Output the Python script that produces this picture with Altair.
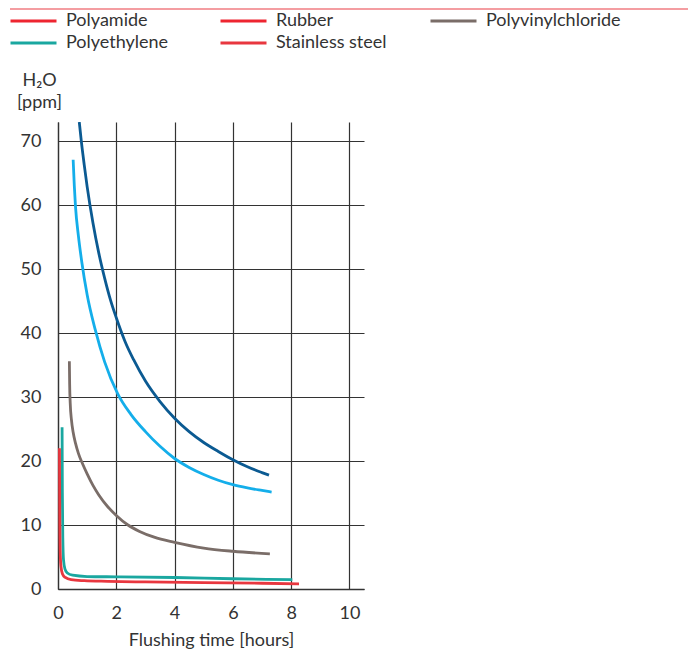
import altair as alt
import pandas as pd

# ---- data ----
series_names = ["Polyamide", "Rubber", "Polyvinylchloride", "Polyethylene", "Stainless steel"]
legend_colors = ["#ee2530", "#ee2530", "#7a6d68", "#1aa7a0", "#e8373f"]
line_colors = ["#0b5a92", "#14aeea", "#7a6d68", "#1aa7a0", "#e8373f"]

polyamide_x = [0.73, 0.80, 0.90, 1.0, 1.2, 1.4, 1.6, 1.8, 2.0, 2.3, 2.6, 3.0, 3.5, 4.0,
               4.5, 5.0, 5.5, 6.0, 6.5, 7.0, 7.24]
polyamide_y = [73.0, 70.0, 66.3, 62.9, 57.2, 52.5, 48.6, 45.2, 42.4, 38.7, 35.8, 32.5, 29.3, 26.7,
               24.6, 22.9, 21.5, 20.2, 19.1, 18.2, 17.8]

rubber_x = [0.52, 0.56, 0.60, 0.70, 0.82, 1.0, 1.28, 1.6, 2.05, 2.5, 3.0, 3.5, 4.0, 4.5,
            5.0, 5.5, 6.0, 6.5, 7.0, 7.33]
rubber_y = [67.1, 63.0, 59.8, 55.2, 51.0, 46.0, 40.5, 35.5, 30.5, 27.3, 24.6, 22.3, 20.4, 19.0,
            17.9, 17.0, 16.3, 15.8, 15.4, 15.15]

pvc_x = [0.39, 0.40, 0.42, 0.46, 0.52, 0.60, 0.70, 0.85, 1.0, 1.2, 1.4, 1.7, 2.0, 2.4, 2.8,
         3.3, 4.0, 5.0, 6.0, 7.27]
pvc_y = [35.6, 32.0, 29.0, 26.5, 24.5, 22.8, 21.2, 19.5, 18.0, 16.2, 14.7, 12.9, 11.5, 10.0, 9.0,
         8.1, 7.3, 6.4, 5.9, 5.5]

pe_x = [0.14, 0.15, 0.165, 0.19, 0.24, 0.32, 0.5, 1.0, 2.0, 4.0, 6.0, 8.04]
pe_y = [25.3, 15.0, 8.0, 4.5, 3.1, 2.5, 2.15, 1.95, 1.9, 1.8, 1.6, 1.45]

ss_x = [0.05, 0.06, 0.075, 0.1, 0.15, 0.25, 0.45, 0.9, 1.7, 3.0, 5.0, 7.0, 8.27]
ss_y = [22.0, 12.0, 6.0, 3.6, 2.4, 1.8, 1.45, 1.3, 1.2, 1.1, 1.0, 0.9, 0.8]

x_ticks = [0, 2, 4, 6, 8, 10]
y_ticks = [0, 10, 20, 30, 40, 50, 60, 70]

# ---- build table ----
rows = []
for name, xs, ys in zip(series_names,
                        [polyamide_x, rubber_x, pvc_x, pe_x, ss_x],
                        [polyamide_y, rubber_y, pvc_y, pe_y, ss_y]):
    for xv, yv in zip(xs, ys):
        rows.append({"series": name, "t": xv, "h2o": yv})
df = pd.DataFrame(rows)

FONT = "Lato"
W, H = 306, 467

x_enc = alt.X("t:Q", scale=alt.Scale(domain=[0, 10.5], nice=False),
              axis=alt.Axis(values=x_ticks, title="Flushing time [hours]", grid=True,
                            ticks=False, labelPadding=15, titlePadding=9,
                            labelFlush=False))
y_enc = alt.Y("h2o:Q", scale=alt.Scale(domain=[0, 73], nice=False),
              axis=alt.Axis(values=y_ticks, title=["H₂O", "[ppm]"], grid=True,
                            ticks=False, labelPadding=17, titleAngle=0,
                            titleAlign="center", titleBaseline="top",
                            titleX=-19, titleY=-51, titleLineHeight=22,
                            labelFlush=False))

lines = alt.Chart(df).mark_line(strokeWidth=2.8, interpolate="monotone", clip=True).encode(
    x=x_enc,
    y=y_enc,
    detail="series:N",
    stroke=alt.Stroke("series:N", scale=alt.Scale(domain=series_names, range=line_colors),
                      legend=None),
)

legend_layer = alt.Chart(df).transform_filter("false").mark_line().encode(
    x="t:Q",
    y="h2o:Q",
    color=alt.Color("series:N", scale=alt.Scale(domain=series_names, range=legend_colors),
                    legend=alt.Legend(orient="none", legendX=-49, legendY=-112,
                                      direction="horizontal",
                                      columns=3, title=None, symbolType="stroke",
                                      symbolSize=2116, symbolStrokeWidth=3,
                                      symbolOpacity=1, labelFontSize=18,
                                      labelFont=FONT, labelColor="#333333",
                                      labelOffset=8, gridAlign="all",
                                      columnPadding=18, rowPadding=0,
                                      clipHeight=22,
                                      labelLimit=300, padding=0)),
)

top_rule = alt.Chart(pd.DataFrame({"a": [0]})).mark_rule(
    color="#f07d82", strokeWidth=1.5, clip=False
).encode(x=alt.value(-48), x2=alt.value(630), y=alt.value(-113))

chart = alt.layer(legend_layer, lines, top_rule).properties(
    width=W, height=H,
    autosize=alt.AutoSizeParams(type="none"),
    padding={"left": 50, "top": 114, "right": 324, "bottom": 60},
).configure_view(stroke=None).configure_axis(
    domainColor="#333333", domainWidth=1.3,
    gridColor="#333333", gridWidth=1.2, gridOpacity=1,
    labelFont=FONT, labelFontSize=18, labelColor="#333333",
    titleFont=FONT, titleFontSize=18, titleColor="#333333", titleFontWeight="normal",
)

chart.save("out.html", embed_options={"renderer": "svg", "actions": False})
